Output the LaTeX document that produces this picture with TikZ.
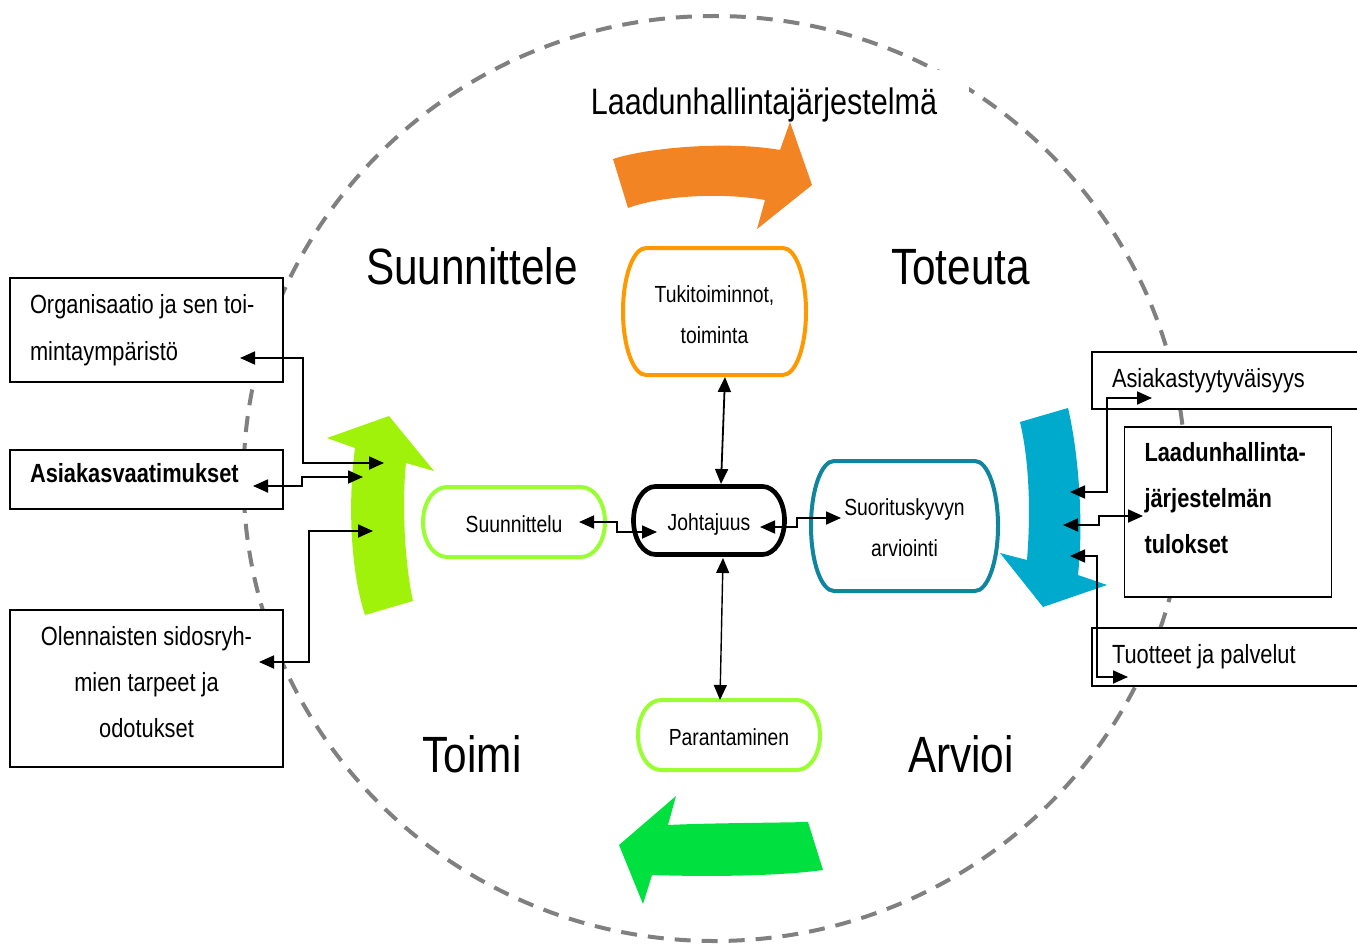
\documentclass[tikz,border=0pt]{standalone}
\usepackage{fontspec}
\setmainfont{Liberation Sans}[FakeStretch=0.83]
\usetikzlibrary{arrows.meta,calc}
\definecolor{qgray}{RGB}{128,128,128}
\definecolor{qorange}{RGB}{243,132,35}
\definecolor{qlime}{RGB}{160,242,10}
\definecolor{qcyan}{RGB}{0,170,204}
\definecolor{qgreen}{RGB}{0,225,64}
\definecolor{tukiline}{RGB}{255,153,0}
\definecolor{lgline}{RGB}{153,255,51}
\definecolor{tealline}{RGB}{16,134,158}
\newcommand\strH[1]{\rule{0pt}{#1pt}}
\newcommand\strD[1]{\rule[-#1pt]{0pt}{#1pt}}
\newcommand\stadout[3]{\draw[#3] let \p1=(#1.north west), \p2=(#1.south east), \n1={(\y1-\y2)/2} in
  (\x1+#2,\y1) -- (\x2-#2,\y1) arc[start angle=90,end angle=-90,x radius=#2,y radius=\n1]
  -- (\x1+#2,\y2) arc[start angle=270,end angle=90,x radius=#2,y radius=\n1] -- cycle;}
\begin{document}
\begin{tikzpicture}[x=1pt,y=-1pt,
  box/.style={draw=black, line width=1.3pt, fill=white, rectangle, inner xsep=20pt, inner ysep=0pt,
     outer sep=0pt, anchor=north west, font=\fontsize{26.3}{47}\selectfont},
  cnode/.style={rectangle, inner sep=0pt, outer sep=0pt, align=center, font=\fontsize{23.3}{41}\selectfont},
  biglab/.style={anchor=base, inner sep=0pt, font=\fontsize{51}{60}\selectfont},
  conn/.style={line width=1.8pt, {Triangle[length=15pt,width=13pt]}-{Triangle[length=15pt,width=13pt]}},
  ringline/.style={qgray, line width=4pt, dash pattern=on 16pt off 11pt},
  colline/.style={line width=4pt}
]
\useasboundingbox (0,0) rectangle (1357,944);
\fill[white] (0,0) rectangle (1357,944);

% dashed ring
\draw[ringline] (714.5,478.5) ellipse [x radius=471pt, y radius=462.5pt];

% title
\node[font=\fontsize{36.8}{44}\selectfont, fill=white, anchor=base, inner xsep=32pt, inner ysep=0pt,
  text height=45pt, text depth=15pt] (qms) at (764,115) {Laadunhallintajärjestelmä};

% block arrows
\fill[qorange] (613,159) .. controls (650,147) and (730,141) .. (780,150) -- (790,122) -- (812,185)
  -- (757,229) -- (765,200) .. controls (720,192) and (660,196) .. (628,208) -- cycle;
\fill[qlime] (365,615) -- (413,601) .. controls (404,560) and (402,500) .. (406,463) -- (434,471)
  -- (389,416) -- (327,438) -- (355,448) .. controls (348,500) and (350,570) .. (365,615) -- cycle;
\fill[qcyan] (1020,422) -- (1068,408) .. controls (1078,450) and (1084,520) .. (1078,575) -- (1107,585)
  -- (1043,607) -- (1000,553) -- (1027,560) .. controls (1031,510) and (1029,460) .. (1020,422) -- cycle;
\fill[qgreen] (808,822) .. controls (760,823) and (710,823) .. (668,825) -- (676,796) -- (619,845)
  -- (643,904) -- (652,875) .. controls (710,877) and (780,876) .. (823,870) -- cycle;

% boxes
\node[box, text width=233pt, align=flush left, minimum height=104pt] (org) at (10,278)
  {\strH{21}Organisaatio ja sen toi-\\mintaympäristö\strD{8}};
\node[box, text width=233pt, align=flush left, minimum height=59pt] (req) at (10,450)
  {\strH{20}\textbf{Asiakasvaatimukset}\strD{14}};
\node[box, text width=233pt, align=flush center, minimum height=157pt, font=\fontsize{26.3}{46}\selectfont] (stake) at (10,610)
  {\strH{20}Olennaisten sidosryh-\\mien tarpeet ja\\odotukset\strD{15}};
\node[box, text width=240pt, align=flush left, minimum height=57pt] (sat) at (1092,352)
  {\strH{21}Asiakastyytyväisyys\strD{8}};
\node[box, text width=167pt, align=flush left, minimum height=170pt, font=\fontsize{26.3}{46}\selectfont\bfseries] (res) at (1124.5,427)
  {\strH{20}Laadunhallinta-\\järjestelmän\\tulokset\strD{29}};
\node[box, text width=240pt, align=flush left, minimum height=58pt] (prod) at (1092,628)
  {\strH{20}Tuotteet ja palvelut\strD{8}};

% central process nodes
\node[cnode, minimum width=183pt, minimum height=127pt] (tuki) at (714.5,311.5) {\strH{28}Tukitoiminnot,\\toiminta\strD{6}};
\node[cnode, minimum width=182pt, minimum height=70pt] (suun) at (514,522) {\strH{26}Suunnittelu\strD{6}};
\node[cnode, minimum width=151pt, minimum height=68pt] (joht) at (709,520.5) {\strH{25}Johtajuus\strD{6}};
\node[cnode, minimum width=187pt, minimum height=130pt] (suor) at (904.5,526) {\strH{25}Suorituskyvyn\\arviointi\strD{6}};
\node[cnode, minimum width=182pt, minimum height=70pt] (para) at (729,735) {\strH{26}Parantaminen\strD{6}};
\stadout{tuki}{23pt}{colline, tukiline}
\stadout{suun}{24pt}{colline, lgline}
\stadout{joht}{22pt}{line width=4.7pt, black}
\stadout{suor}{23pt}{colline, tealline}
\stadout{para}{23pt}{colline, lgline}

% phase labels
\node[biglab] (plan) at (472,284) {Suunnittele};
\node[biglab] (do) at (960.5,284) {Toteuta};
\node[biglab] (act) at (472,772) {Toimi};
\node[biglab] (check) at (961,772) {Arvioi};

% connector end points
\coordinate (o1) at (240,358);  \coordinate (o1k) at (303,410); \coordinate (o1a) at (384,463);
\coordinate (r1) at (253,486);  \coordinate (r1k) at (302,480); \coordinate (r1a) at (363,477);
\coordinate (s1) at (259,662);  \coordinate (s1k) at (309,600); \coordinate (s1a) at (373,531);
\coordinate (su1) at (579,522); \coordinate (k4) at (617,527);  \coordinate (jo1) at (657,532);
\coordinate (jo2) at (760,527); \coordinate (k5) at (797,522);  \coordinate (sk1) at (841,518);
\coordinate (tu1) at (725,377); \coordinate (jo3) at (721,484);
\coordinate (jo4) at (723,558); \coordinate (pa1) at (720,700);
\coordinate (cy1) at (1070,492); \coordinate (k8) at (1107,450);  \coordinate (sat1) at (1152,398);
\coordinate (cy2) at (1063,525); \coordinate (k9) at (1099,520);  \coordinate (res1) at (1143,516);
\coordinate (cy3) at (1070,556); \coordinate (k10) at (1097,600); \coordinate (prod1) at (1128,677);

% connectors
\draw[conn] (o1) -| (o1k) |- (o1a);
\draw[conn] (r1) -| (r1k) |- (r1a);
\draw[conn] (s1) -| (s1k) |- (s1a);
\draw[conn] (su1) -| (k4) |- (jo1);
\draw[conn] (jo2) -| (k5) |- (sk1);
\draw[conn] (tu1) -- (jo3);
\draw[conn, line width=1.4pt] (jo4) -- (pa1);
\draw[conn] (cy1) -| (k8) |- (sat1);
\draw[conn] (cy2) -| (k9) |- (res1);
\draw[conn] (cy3) -| (k10) |- (prod1);
\end{tikzpicture}
\end{document}
